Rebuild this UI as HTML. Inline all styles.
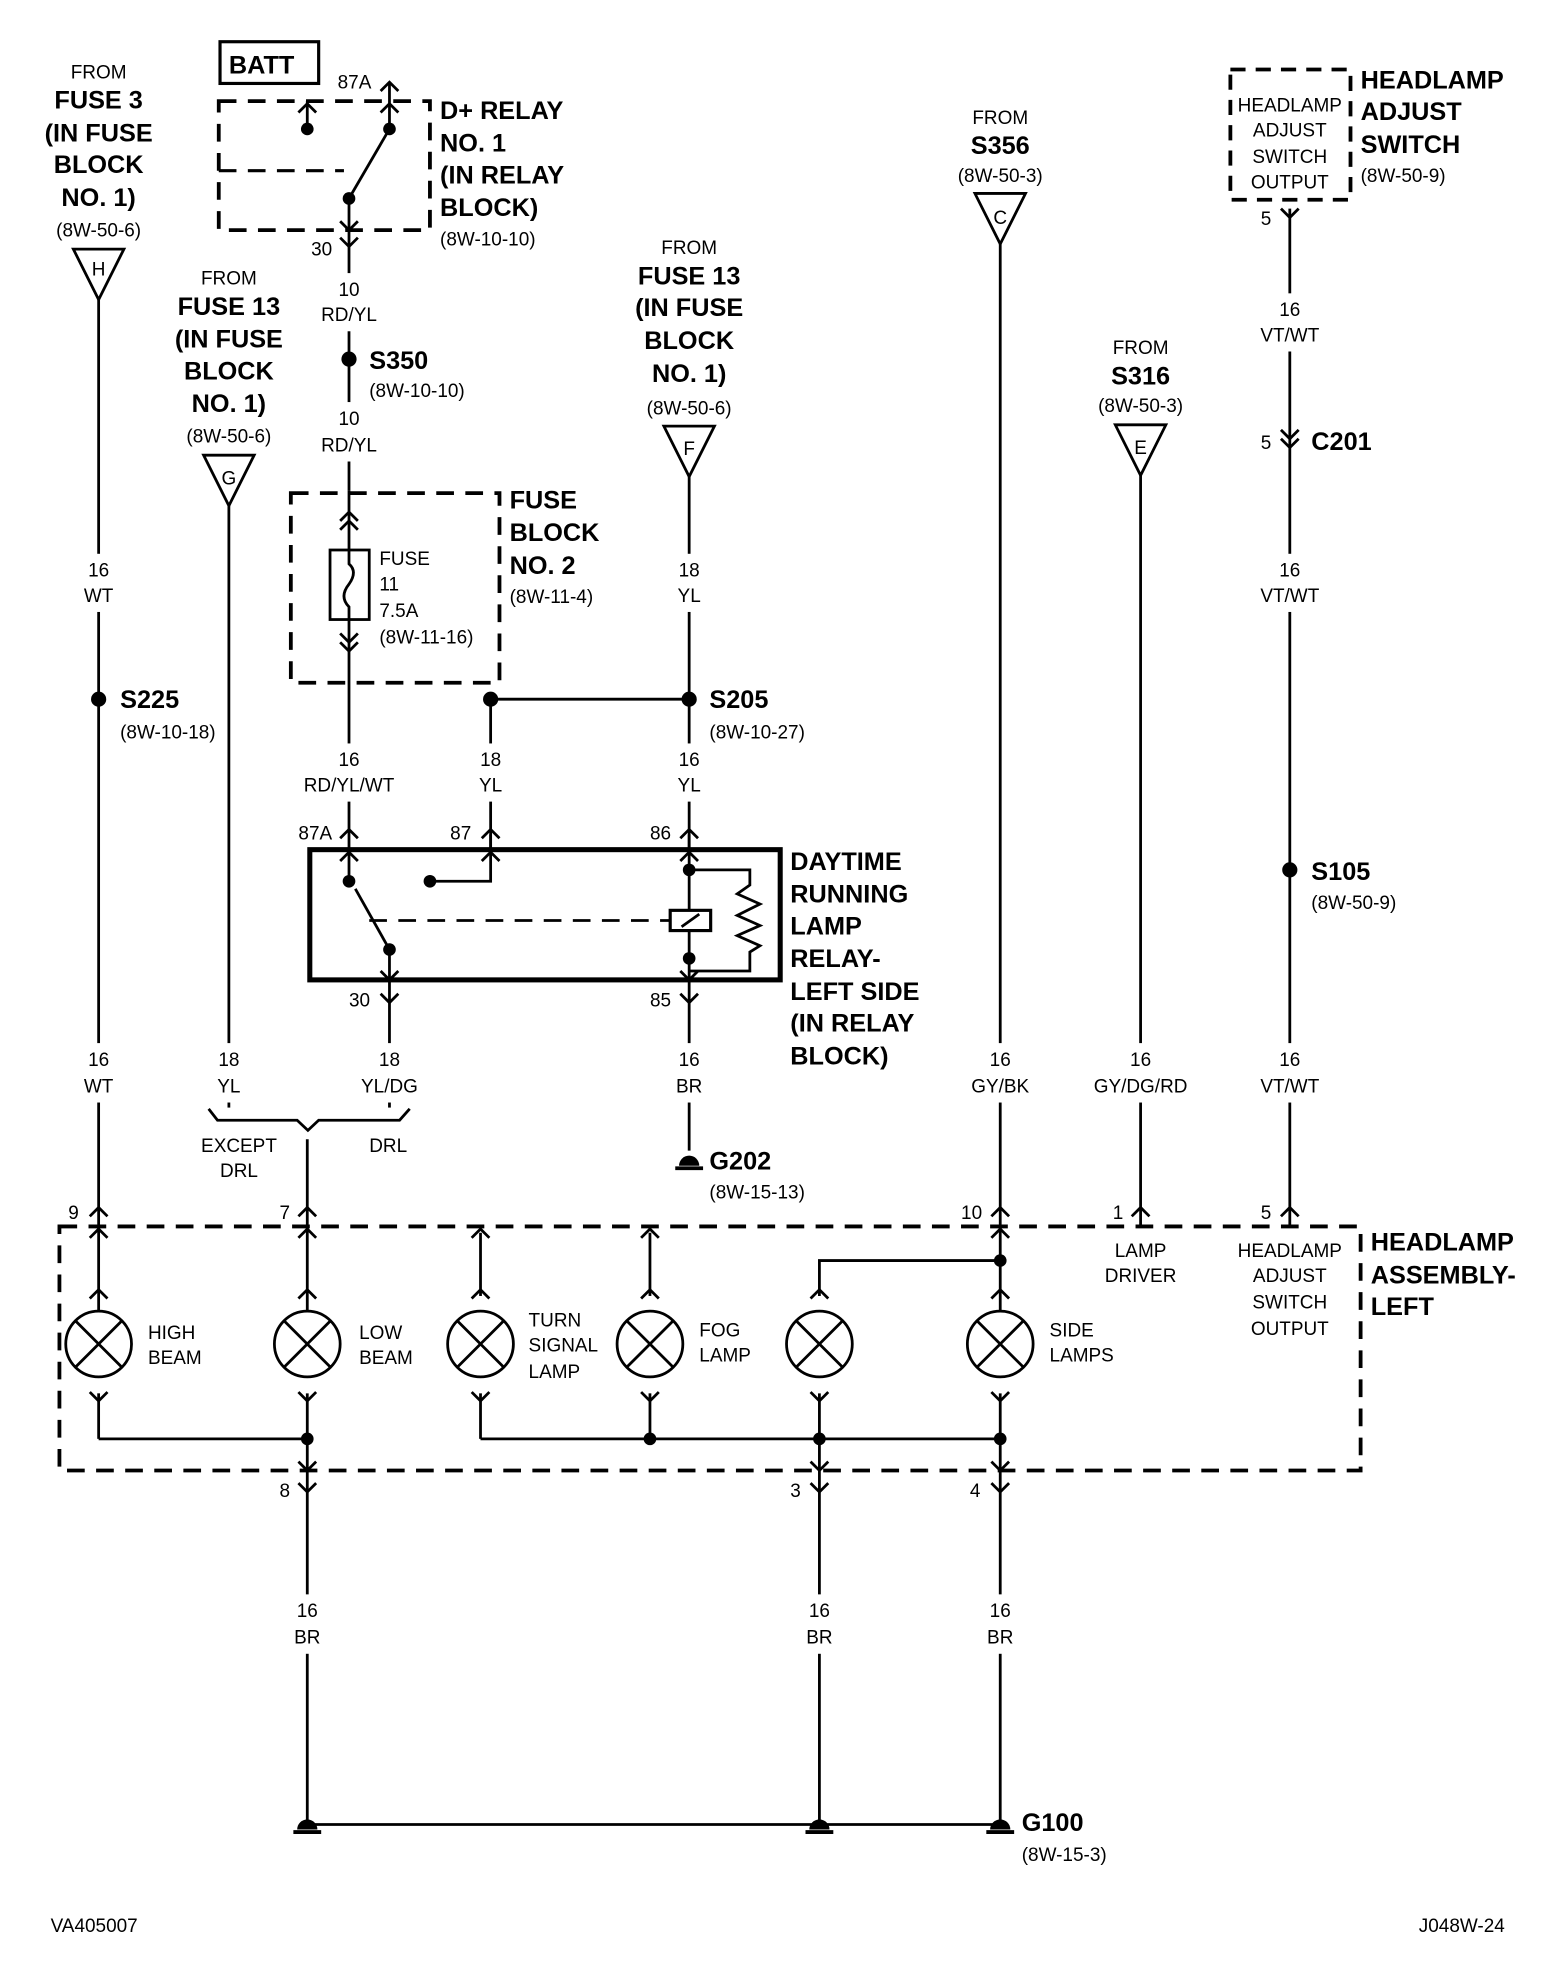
<!DOCTYPE html>
<html><head><meta charset="utf-8"><style>
html,body{margin:0;padding:0;background:#fff}
svg{display:block}
text{font-family:"Liberation Sans Narrow","Liberation Sans",sans-serif;fill:#000}
.b{font-weight:bold;font-size:20px}
.s{font-size:15px}
.c{text-anchor:middle}
</style></head><body>
<svg width="1568" height="1980" viewBox="0 0 1240 1566" preserveAspectRatio="none" xmlns="http://www.w3.org/2000/svg">
<defs>
<path id="u" d="M-7,7 L0,0 L7,7" fill="none" stroke="#000" stroke-width="2.2"/>
<path id="d" d="M-7,-7 L0,0 L7,-7" fill="none" stroke="#000" stroke-width="2.2"/>
</defs>
<g stroke="#000" stroke-width="2.2" fill="none">
<line x1="78" y1="237" x2="78" y2="1037"/>
<polygon points="58,197 98,197 78,237"/>
<line x1="181" y1="400" x2="181" y2="830"/>
<polygon points="161,360 201,360 181,400"/>
<line x1="181" y1="870" x2="181" y2="876"/>
<line x1="308" y1="870" x2="308" y2="876"/>
<path d="M165,877 L172,886 L235,886 L243.5,894 L252,886 L316,886 L324,877"/>
<line x1="243" y1="901" x2="243" y2="1037"/>
<rect x="174" y="33" width="78" height="33" stroke-width="2.5"/>
<rect x="173" y="80" width="167" height="102" stroke-width="3" stroke-dasharray="14,9"/>
<line x1="173" y1="135" x2="272" y2="135" stroke-width="2.5" stroke-dasharray="14,9"/>
<line x1="243" y1="80" x2="243" y2="100"/>
<line x1="308" y1="65" x2="308" y2="102"/>
<line x1="308" y1="102" x2="276" y2="157"/>
<line x1="276" y1="157" x2="276" y2="388"/>
<rect x="230" y="390" width="165" height="150" stroke-width="3" stroke-dasharray="14,9"/>
<line x1="276" y1="388" x2="276" y2="660"/>
<rect x="261" y="435" width="31" height="55" fill="#fff"/>
<path d="M276,435 L276,446 Q283,452 276,462 Q268,472 276,480 L276,490"/>
<line x1="388" y1="553" x2="388" y2="672"/>
<line x1="388" y1="553" x2="545" y2="553"/>
<line x1="545" y1="377" x2="545" y2="672"/>
<polygon points="525,337 565,337 545,377"/>
<rect x="245" y="672" width="372" height="103" stroke-width="4"/>
<line x1="276" y1="660" x2="276" y2="697"/>
<line x1="308" y1="751" x2="281" y2="703"/>
<line x1="308" y1="751" x2="308" y2="793"/>
<path d="M340,697 L388,697 L388,660"/>
<line x1="292" y1="728" x2="530" y2="728" stroke-dasharray="14,9"/>
<rect x="530" y="720" width="32" height="16" stroke-width="2.5"/>
<line x1="539" y1="733" x2="553" y2="723"/>
<line x1="545" y1="660" x2="545" y2="720"/>
<line x1="545" y1="736" x2="545" y2="910"/>
<path d="M545,688 L593,688 L593,700 L583,707 L601,715 L583,724 L601,732 L583,740 L601,748 L593,753 L593,768 L545,768"/>
<line x1="308" y1="793" x2="308" y2="830"/>
<line x1="791" y1="193" x2="791" y2="1037"/>
<polygon points="771,153 811,153 791,193"/>
<line x1="902" y1="376" x2="902" y2="970"/>
<polygon points="882,336 922,336 902,376"/>
<rect x="973" y="55" width="95" height="103" stroke-width="3" stroke-dasharray="12,8"/>
<line x1="1020" y1="165" x2="1020" y2="970"/>
<rect x="47" y="970" width="1029" height="193" stroke-width="3" stroke-dasharray="14,9"/>
<circle cx="78" cy="1063" r="26"/><path d="M60,1045 L96,1081 M96,1045 L60,1081"/>
<circle cx="243" cy="1063" r="26"/><path d="M225,1045 L261,1081 M261,1045 L225,1081"/>
<circle cx="380" cy="1063" r="26"/><path d="M362,1045 L398,1081 M398,1045 L362,1081"/>
<circle cx="514" cy="1063" r="26"/><path d="M496,1045 L532,1081 M532,1045 L496,1081"/>
<circle cx="648" cy="1063" r="26"/><path d="M630,1045 L666,1081 M666,1045 L630,1081"/>
<circle cx="791" cy="1063" r="26"/><path d="M773,1045 L809,1081 M809,1045 L773,1081"/>
<line x1="380" y1="975" x2="380" y2="1025"/>
<line x1="514" y1="975" x2="514" y2="1025"/>
<path d="M791,997 L648,997 L648,1025"/>
<line x1="78" y1="1102" x2="78" y2="1138"/>
<line x1="78" y1="1138" x2="243" y2="1138"/>
<line x1="243" y1="1102" x2="243" y2="1443"/>
<line x1="380" y1="1102" x2="380" y2="1138"/>
<line x1="380" y1="1138" x2="791" y2="1138"/>
<line x1="514" y1="1102" x2="514" y2="1138"/>
<line x1="648" y1="1102" x2="648" y2="1443"/>
<line x1="791" y1="1102" x2="791" y2="1443"/>
<line x1="243" y1="1443" x2="791" y2="1443"/>
<line x1="534" y1="924" x2="556" y2="924" stroke-width="3"/>
<line x1="232" y1="1449" x2="254" y2="1449" stroke-width="3"/>
<line x1="637" y1="1449" x2="659" y2="1449" stroke-width="3"/>
<line x1="780" y1="1449" x2="802" y2="1449" stroke-width="3"/>
</g>
<!-- label gaps -->
<g fill="#fff">
<rect x="74" y="438" width="8" height="46"/><rect x="74" y="825" width="8" height="47"/>
<rect x="177" y="825" width="8" height="47"/><rect x="304" y="825" width="8" height="47"/>
<rect x="272" y="216" width="8" height="46"/><rect x="272" y="318" width="8" height="47"/>
<rect x="272" y="588" width="8" height="46"/><rect x="384" y="588" width="8" height="46"/>
<rect x="541" y="438" width="8" height="46"/><rect x="541" y="588" width="8" height="46"/><rect x="541" y="825" width="8" height="47"/>
<rect x="787" y="825" width="8" height="47"/><rect x="898" y="825" width="8" height="47"/>
<rect x="1016" y="232" width="8" height="46"/><rect x="1016" y="438" width="8" height="46"/><rect x="1016" y="825" width="8" height="47"/>
<rect x="239" y="1261" width="8" height="47"/><rect x="644" y="1261" width="8" height="47"/><rect x="787" y="1261" width="8" height="47"/>
</g>
<g>
<use href="#u" x="308" y="65"/><use href="#u" x="243" y="82"/><use href="#u" x="308" y="82"/>
<use href="#d" x="276" y="182"/><use href="#d" x="276" y="195"/>
<use href="#u" x="276" y="405"/><use href="#u" x="276" y="412"/>
<use href="#d" x="276" y="508"/><use href="#d" x="276" y="515"/>
<use href="#u" x="276" y="656"/><use href="#u" x="388" y="656"/><use href="#u" x="545" y="656"/>
<use href="#u" x="276" y="674"/><use href="#u" x="388" y="674"/><use href="#u" x="545" y="674"/>
<use href="#d" x="308" y="775"/><use href="#d" x="545" y="775"/>
<use href="#d" x="308" y="793"/><use href="#d" x="545" y="793"/>
<use href="#d" x="1020" y="172"/>
<use href="#d" x="1020" y="347"/><use href="#d" x="1020" y="354"/>
<use href="#u" x="78" y="955"/><use href="#u" x="243" y="955"/><use href="#u" x="791" y="955"/><use href="#u" x="902" y="955"/><use href="#u" x="1020" y="955"/>
<use href="#u" x="78" y="972"/><use href="#u" x="243" y="972"/><use href="#u" x="791" y="972"/><use href="#u" x="380" y="972"/><use href="#u" x="514" y="972"/>
<use href="#u" x="78" y="1020"/><use href="#u" x="243" y="1020"/><use href="#u" x="380" y="1020"/><use href="#u" x="514" y="1020"/><use href="#u" x="648" y="1020"/><use href="#u" x="791" y="1020"/>
<use href="#d" x="78" y="1108"/><use href="#d" x="243" y="1108"/><use href="#d" x="380" y="1108"/><use href="#d" x="514" y="1108"/><use href="#d" x="648" y="1108"/><use href="#d" x="791" y="1108"/>
<use href="#d" x="243" y="1163"/><use href="#d" x="648" y="1163"/><use href="#d" x="791" y="1163"/>
<use href="#d" x="243" y="1180"/><use href="#d" x="648" y="1180"/><use href="#d" x="791" y="1180"/>
</g>
<g fill="#000">
<circle cx="243" cy="102" r="5"/><circle cx="308" cy="102" r="5"/><circle cx="276" cy="157" r="5"/>
<circle cx="276" cy="284" r="6"/><circle cx="78" cy="553" r="6"/><circle cx="388" cy="553" r="6"/><circle cx="545" cy="553" r="6"/>
<circle cx="276" cy="697" r="5"/><circle cx="308" cy="751" r="5"/><circle cx="340" cy="697" r="5"/><circle cx="545" cy="688" r="5"/><circle cx="545" cy="758" r="5"/>
<circle cx="1020" cy="688" r="6"/><circle cx="791" cy="997" r="5"/>
<circle cx="243" cy="1138" r="5"/><circle cx="514" cy="1138" r="5"/><circle cx="648" cy="1138" r="5"/><circle cx="791" cy="1138" r="5"/>
<path d="M537,922 A8,8 0 0 1 553,922 Z"/>
<path d="M235,1447 A8,8 0 0 1 251,1447 Z"/>
<path d="M640,1447 A8,8 0 0 1 656,1447 Z"/>
<path d="M783,1447 A8,8 0 0 1 799,1447 Z"/>
</g>
<g class="s c">
<text x="78" y="62">FROM</text>
<text x="78" y="187">(8W-50-6)</text>
<text x="78" y="218">H</text>
<text x="78" y="456">16</text><text x="78" y="476">WT</text>
<text x="78" y="843">16</text><text x="78" y="864">WT</text>
<text x="181" y="225">FROM</text>
<text x="181" y="350">(8W-50-6)</text>
<text x="181" y="383">G</text>
<text x="181" y="843">18</text><text x="181" y="864">YL</text>
<text x="308" y="843">18</text><text x="308" y="864">YL/DG</text>
<text x="189" y="911">EXCEPT</text><text x="189" y="931">DRL</text>
<text x="307" y="911">DRL</text>
<text x="276" y="234">10</text><text x="276" y="254">RD/YL</text>
<text x="276" y="336">10</text><text x="276" y="357">RD/YL</text>
<text x="276" y="606">16</text><text x="276" y="626">RD/YL/WT</text>
<text x="388" y="606">18</text><text x="388" y="626">YL</text>
<text x="545" y="201">FROM</text>
<text x="545" y="328">(8W-50-6)</text>
<text x="545" y="360">F</text>
<text x="545" y="456">18</text><text x="545" y="476">YL</text>
<text x="545" y="606">16</text><text x="545" y="626">YL</text>
<text x="545" y="843">16</text><text x="545" y="864">BR</text>
<text x="791" y="98">FROM</text>
<text x="791" y="144">(8W-50-3)</text>
<text x="791" y="177">C</text>
<text x="791" y="843">16</text><text x="791" y="864">GY/BK</text>
<text x="902" y="280">FROM</text>
<text x="902" y="326">(8W-50-3)</text>
<text x="902" y="359">E</text>
<text x="902" y="843">16</text><text x="902" y="864">GY/DG/RD</text>
<text x="902" y="994">LAMP</text><text x="902" y="1014">DRIVER</text>
<text x="1020" y="88">HEADLAMP</text><text x="1020" y="108">ADJUST</text><text x="1020" y="129">SWITCH</text><text x="1020" y="149">OUTPUT</text>
<text x="1020" y="250">16</text><text x="1020" y="270">VT/WT</text>
<text x="1020" y="456">16</text><text x="1020" y="476">VT/WT</text>
<text x="1020" y="843">16</text><text x="1020" y="864">VT/WT</text>
<text x="1020" y="994">HEADLAMP</text><text x="1020" y="1014">ADJUST</text><text x="1020" y="1035">SWITCH</text><text x="1020" y="1056">OUTPUT</text>
<text x="243" y="1279">16</text><text x="243" y="1300">BR</text>
<text x="648" y="1279">16</text><text x="648" y="1300">BR</text>
<text x="791" y="1279">16</text><text x="791" y="1300">BR</text>
</g>
<g class="s">
<text x="267" y="70">87A</text>
<text x="246" y="202">30</text>
<text x="348" y="194">(8W-10-10)</text>
<text x="292" y="314">(8W-10-10)</text>
<text x="300" y="447">FUSE</text><text x="300" y="467">11</text><text x="300" y="488">7.5A</text><text x="300" y="509">(8W-11-16)</text>
<text x="403" y="477">(8W-11-4)</text>
<text x="95" y="584">(8W-10-18)</text>
<text x="561" y="584">(8W-10-27)</text>
<text x="236" y="664">87A</text><text x="356" y="664">87</text><text x="514" y="664">86</text>
<text x="276" y="796">30</text><text x="514" y="796">85</text>
<text x="561" y="948">(8W-15-13)</text>
<text x="1037" y="719">(8W-50-9)</text>
<text x="1076" y="144">(8W-50-9)</text>
<text x="997" y="178">5</text><text x="997" y="355">5</text>
<text x="54" y="964">9</text><text x="221" y="964">7</text><text x="760" y="964">10</text><text x="880" y="964">1</text><text x="997" y="964">5</text>
<text x="221" y="1184">8</text><text x="625" y="1184">3</text><text x="767" y="1184">4</text>
<text x="117" y="1059">HIGH</text><text x="117" y="1079">BEAM</text>
<text x="284" y="1059">LOW</text><text x="284" y="1079">BEAM</text>
<text x="418" y="1049">TURN</text><text x="418" y="1069">SIGNAL</text><text x="418" y="1090">LAMP</text>
<text x="553" y="1057">FOG</text><text x="553" y="1077">LAMP</text>
<text x="830" y="1057">SIDE</text><text x="830" y="1077">LAMPS</text>
<text x="808" y="1472">(8W-15-3)</text>
<text x="40" y="1528">VA405007</text>
<text x="1122" y="1528">J048W-24</text>
</g>
<g class="b c">
<text x="78" y="86">FUSE 3</text><text x="78" y="112">(IN FUSE</text><text x="78" y="137">BLOCK</text><text x="78" y="163">NO. 1)</text>
<text x="181" y="249">FUSE 13</text><text x="181" y="275">(IN FUSE</text><text x="181" y="300">BLOCK</text><text x="181" y="326">NO. 1)</text>
<text x="545" y="225">FUSE 13</text><text x="545" y="250">(IN FUSE</text><text x="545" y="276">BLOCK</text><text x="545" y="302">NO. 1)</text>
<text x="791" y="122">S356</text>
<text x="902" y="304">S316</text>
</g>
<g class="b">
<text x="181" y="58">BATT</text>
<text x="348" y="94">D+ RELAY</text><text x="348" y="120">NO. 1</text><text x="348" y="145">(IN RELAY</text><text x="348" y="171">BLOCK)</text>
<text x="292" y="292">S350</text>
<text x="403" y="402">FUSE</text><text x="403" y="428">BLOCK</text><text x="403" y="454">NO. 2</text>
<text x="95" y="560">S225</text>
<text x="561" y="560">S205</text>
<text x="625" y="688">DAYTIME</text><text x="625" y="714">RUNNING</text><text x="625" y="739">LAMP</text><text x="625" y="765">RELAY-</text><text x="625" y="791">LEFT SIDE</text><text x="625" y="816">(IN RELAY</text><text x="625" y="842">BLOCK)</text>
<text x="561" y="925">G202</text>
<text x="1037" y="356">C201</text>
<text x="1037" y="696">S105</text>
<text x="1076" y="70">HEADLAMP</text><text x="1076" y="95">ADJUST</text><text x="1076" y="121">SWITCH</text>
<text x="1084" y="989">HEADLAMP</text><text x="1084" y="1015">ASSEMBLY-</text><text x="1084" y="1040">LEFT</text>
<text x="808" y="1448">G100</text>
</g>
</svg>
</body></html>
